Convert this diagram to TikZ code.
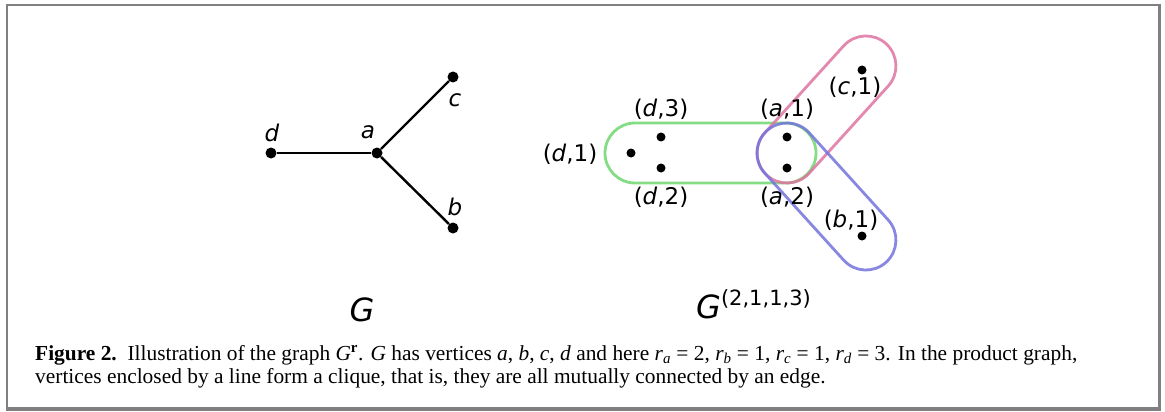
\documentclass[tikz,border=0pt]{standalone}
\usepackage{fontspec}
\setmainfont{Liberation Serif}
\newfontfamily\lblfont{DejaVu Sans}
\usetikzlibrary{positioning}
\definecolor{frGray}{RGB}{128,128,128}
\definecolor{clGreen}{RGB}{110,215,110}
\definecolor{clPink}{RGB}{222,115,160}
\definecolor{clBlue}{RGB}{115,115,222}

\begin{document}
\begin{tikzpicture}[x=1pt, y=-1pt,
  vtx/.style={circle, fill=black, inner sep=0pt, minimum size=11pt},
  pvtx/.style={circle, fill=black, inner sep=0pt, minimum size=9pt},
  lbl/.style={font=\lblfont\fontsize{23}{27}\selectfont, inner sep=0pt},
  clique/.style={line width=2.8pt, rounded corners=30pt, opacity=0.85}]
  \useasboundingbox (0,0) rectangle (1165,412);
  % frame
  \draw[frGray, line width=1.2pt] (7,5) rectangle (1159,408);
  \draw[frGray, line width=3pt] (1159,4.4) -- (1159,409.5) -- (6.4,409.5);

  % the graph G
  \node[vtx] (a) at (377,153) {};
  \node[vtx] (b) at (453,228) {};
  \node[vtx] (c) at (453,77) {};
  \node[vtx] (d) at (271,153) {};
  \draw[line width=2.4pt] (a) -- (b);
  \draw[line width=2.4pt] (a) -- (c);
  \draw[line width=2.4pt] (a) -- (d);
  \node[lbl] (la) at (368,132) {\itshape a};
  \node[lbl] (lb) at (455,207) {\itshape b};
  \node[lbl] (lc) at (455,100) {\itshape c};
  \node[lbl] (ld) at (272,133) {\itshape d};
  \node[lbl, font=\lblfont\fontsize{32}{36}\selectfont] (gG) at (362,310) {\itshape G};

  % the product graph
  \draw[clique, clGreen] (605,123) rectangle (816,183);
  \begin{scope}[shift={(787,153)}, rotate=47.8]
    \draw[clique, clPink] (-30,-30) rectangle (147.5,30);
  \end{scope}
  \begin{scope}[shift={(787,153)}, rotate=-47.8]
    \draw[clique, clBlue] (-30,-30) rectangle (147.5,30);
  \end{scope}
  \node[pvtx] (d1) at (631,153) {};
  \node[pvtx] (d2) at (661,168) {};
  \node[pvtx] (d3) at (661,137) {};
  \node[pvtx] (a1) at (787,137) {};
  \node[pvtx] (a2) at (787,168) {};
  \node[pvtx] (c1) at (862,70) {};
  \node[pvtx] (b1) at (862,236) {};
  \node[lbl] (ld1) at (570,154) {(\textit{d},1)};
  \node[lbl] (ld2) at (661,197) {(\textit{d},2)};
  \node[lbl] (ld3) at (661,109) {(\textit{d},3)};
  \node[lbl] (la1) at (787,109) {(\textit{a},1)};
  \node[lbl] (la2) at (787,197) {(\textit{a},2)};
  \node[lbl] (lc1) at (855,87) {(\textit{c},1)};
  \node[lbl] (lb1) at (851,220) {(\textit{b},1)};
  \node[lbl, anchor=base west] (gP) at (696,318)
    {\fontsize{32}{36}\selectfont\itshape G\upshape\raisebox{13pt}{\fontsize{21}{24}\selectfont(2,1,1,3)}};

  % caption
  \node[anchor=base west, inner sep=0pt, align=left, font=\fontsize{21.4}{23}\selectfont] (cap) at (35,383)
    {\textbf{Figure 2.}\enspace Illustration of the graph \textit{G}\textsuperscript{\textbf{r}}. \textit{G} has vertices \textit{a}, \textit{b}, \textit{c}, \textit{d} and here \textit{r}\textsubscript{\textit{a}} = 2, \textit{r}\textsubscript{\textit{b}} = 1, \textit{r}\textsubscript{\textit{c}} = 1, \textit{r}\textsubscript{\textit{d}} = 3. In the product graph,\\
     vertices enclosed by a line form a clique, that is, they are all mutually connected by an edge.};
\end{tikzpicture}
\end{document}
